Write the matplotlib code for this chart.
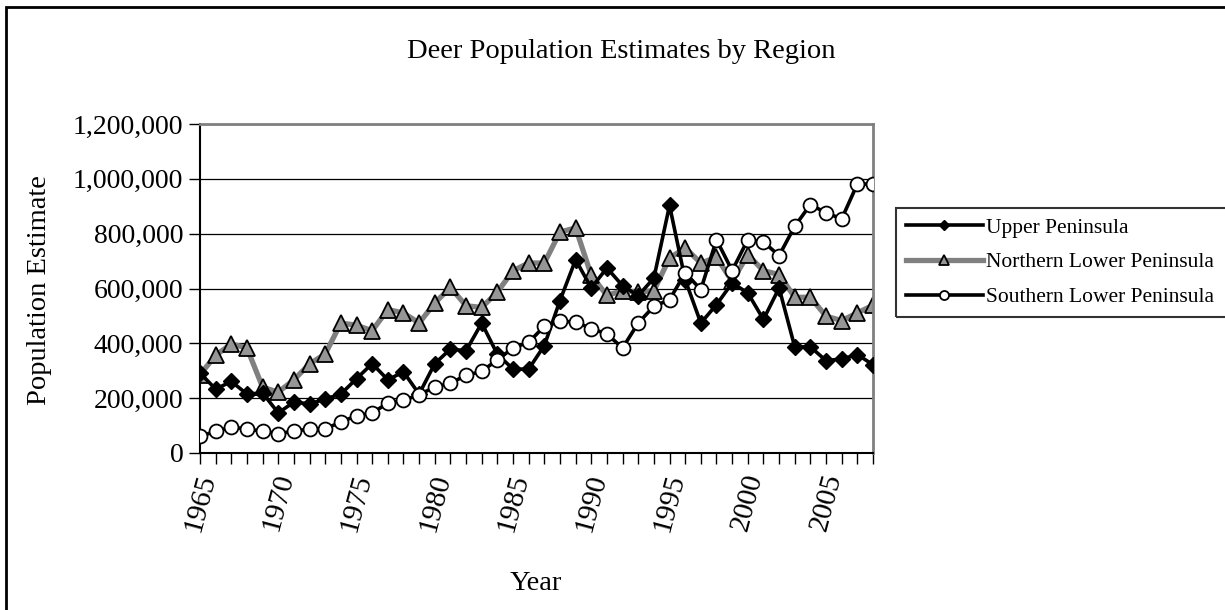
import numpy as np
import matplotlib.pyplot as plt
from matplotlib.patches import Rectangle
from matplotlib.ticker import FuncFormatter, MultipleLocator

plt.rcParams['font.family'] = ['Liberation Serif', 'DejaVu Serif']

years = np.arange(1965, 2009)

upper = [292, 233, 261, 215, 219, 146, 186, 179, 197, 215,
         271, 326, 267, 296, 215, 326, 379, 373, 474, 360,
         306, 306, 392, 556, 705, 602, 675, 610, 574, 638,
         903, 632, 474, 541, 620, 584, 487, 602, 387, 387,
         337, 343, 359, 322]

northern = [286, 356, 398, 383, 240, 222, 267, 325, 361, 474,
            466, 446, 523, 511, 474, 547, 604, 537, 531, 587,
            665, 693, 693, 806, 821, 648, 575, 592, 587, 592,
            711, 748, 693, 714, 626, 723, 665, 651, 568, 568,
            499, 483, 511, 539]

southern = [61, 79, 94, 88, 79, 71, 79, 88, 88, 113,
            136, 146, 182, 192, 213, 240, 255, 283, 298, 340,
            383, 404, 462, 480, 478, 454, 434, 383, 474, 535,
            559, 657, 596, 778, 665, 778, 770, 720, 827, 906,
            876, 854, 981, 981]

upper = np.array(upper) * 1000
northern = np.array(northern) * 1000
southern = np.array(southern) * 1000

fig = plt.figure(figsize=(12.25, 6.1), dpi=100)
ax = fig.add_axes([200/1225, 1 - 453/610, 673/1225, 329/610])

ax.plot(years, upper, color='black', lw=2.6, marker='D', ms=8,
        mfc='black', mec='black', label='Upper Peninsula', zorder=3)
ax.plot(years, northern, color='#808080', lw=3.8, marker='^', ms=11,
        mfc='#969696', mec='black', mew=1.3, label='Northern Lower Peninsula', zorder=2)
ax.plot(years, southern, color='black', lw=2.6, marker='o', ms=10,
        mfc='white', mec='black', mew=1.3, label='Southern Lower Peninsula', zorder=4)

ax.set_xlim(1965, 2008)
ax.set_ylim(0, 1200000)
ax.yaxis.set_major_locator(MultipleLocator(200000))
ax.yaxis.set_major_formatter(FuncFormatter(lambda v, p: f'{int(v):,}'))
ax.grid(axis='y', color='black', lw=0.9)
ax.set_axisbelow(True)

ax.set_xticks(years)
ax.set_xticklabels([str(y) if (y - 1965) % 5 == 0 else '' for y in years],
                   rotation=75, fontsize=21)
ax.tick_params(axis='x', length=8, width=1, pad=5)
ax.tick_params(axis='y', length=8, width=1, labelsize=20, pad=4)

for s in ['left', 'bottom']:
    ax.spines[s].set_linewidth(1.5)
    ax.spines[s].set_color('black')
for s in ['top', 'right']:
    ax.spines[s].set_linewidth(2)
    ax.spines[s].set_color('#808080')

fig.text(621/1225, 1 - 52/610, 'Deer Population Estimates by Region',
         ha='center', va='center', fontsize=20.5)
fig.text(536/1225, 1 - 583/610, 'Year', ha='center', va='center', fontsize=20.5)
fig.text(40/1225, 1 - 290/610, 'Population Estimate', ha='center', va='center',
         rotation=90, fontsize=20.5)

# legend without its own frame; box drawn by hand so it runs off the right edge like the original
leg = fig.legend(loc='upper left', bbox_to_anchor=(896/1225, 1 - 208/610),
                 borderaxespad=0, fontsize=15.5, handlelength=3.6,
                 labelspacing=0.68, frameon=False, borderpad=0.45,
                 handletextpad=0.15, markerscale=0.65)
fig.patches.append(Rectangle((896/1225, 1 - 317/610), 0.5, 109/610,
                             transform=fig.transFigure, fill=False,
                             edgecolor='#333333', lw=1.5))

fig.patches.append(Rectangle((6/1225, -0.02), 1.1, 1 - 7/610 + 0.02,
                             transform=fig.transFigure, fill=False,
                             edgecolor='black', lw=2))

plt.savefig('out.png', dpi=100)
